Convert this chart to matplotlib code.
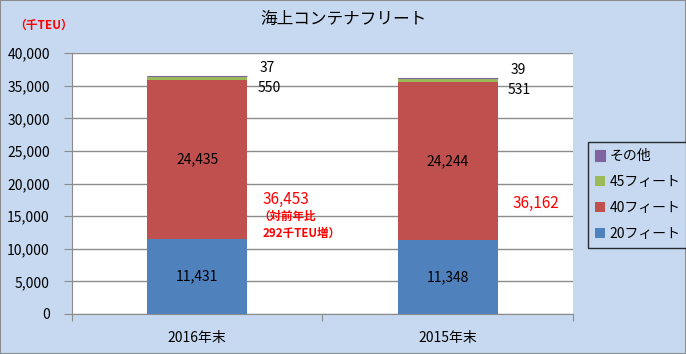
import matplotlib.pyplot as plt
from matplotlib.patches import Rectangle

plt.rcParams['font.family'] = ['Noto Sans CJK JP', 'DejaVu Sans']

categories = ['2016年末', '2015年末']
ft20 = [11431, 11348]
ft40 = [24435, 24244]
ft45 = [550, 531]
others = [37, 39]
totals = [36453, 36162]
series_names = ['20フィート', '40フィート', '45フィート', 'その他']
colors = ['#4F81BD', '#C0504D', '#9BBB59', '#8064A2']

bg = '#C6D9F0'
fig = plt.figure(figsize=(6.86, 3.54), dpi=100, facecolor=bg)
fig.patches.append(Rectangle((0, 0), 1, 1, transform=fig.transFigure,
                             fill=False, edgecolor='#8C8C8C', lw=1.5))
ax = fig.add_axes([0.105, 0.113, 0.730, 0.737])
ax.set_facecolor('white')

x = list(range(len(categories)))
bottom = [0, 0]
for vals, name, c in zip([ft20, ft40, ft45, others], series_names, colors):
    ax.bar(x, vals, 0.4, bottom=bottom, color=c, label=name, zorder=3,
           edgecolor=c if name == 'その他' else 'none', lw=0.8)
    bottom = [a + v for a, v in zip(bottom, vals)]

# labels inside bars
for i in x:
    ax.text(i, ft20[i] / 2, f'{ft20[i]:,}', ha='center', va='center', fontsize=10, zorder=4)
    ax.text(i, ft20[i] + ft40[i] / 2, f'{ft40[i]:,}', ha='center', va='center', fontsize=10, zorder=4)
    ax.text(i + 0.24, totals[i] - ft45[i] - 1300, f'{ft45[i]:,}', ha='left', va='center', fontsize=10)
    ax.text(i + 0.25, totals[i] + 1300, f'{others[i]:,}', ha='left', va='center', fontsize=10)

ax.text(0.26, 17600, f'{totals[0]:,}', color='red', fontsize=11, ha='left', va='center')
ax.text(0.245, 15000, '（対前年比', color='red', fontsize=8.3, ha='left', va='center', fontweight='bold')
ax.text(0.26, 12400, '292千TEU増）', color='red', fontsize=8.3, ha='left', va='center', fontweight='bold')
ax.text(1.26, 17000, f'{totals[1]:,}', color='red', fontsize=11, ha='left', va='center')

ax.set_xlim(-0.5, 1.5)
ax.set_ylim(0, 40000)
ax.set_yticks(range(0, 40001, 5000))
ax.set_yticklabels([f'{v:,}' for v in range(0, 40001, 5000)], fontsize=10)
ax.yaxis.grid(True, color='#8C8C8C', lw=1, zorder=0)
ax.set_xticks([-0.5, 0.5, 1.5])
ax.set_xticklabels([])
ax.set_xticks(x, minor=True)
ax.set_xticklabels(categories, minor=True, fontsize=10)
ax.tick_params(axis='x', which='minor', length=0, pad=12)
ax.tick_params(axis='x', which='major', length=5, color='#8C8C8C')
ax.tick_params(axis='y', length=6, color='#8C8C8C', pad=10)
for s in ['top', 'right']:
    ax.spines[s].set_visible(False)
for s in ['left', 'bottom']:
    ax.spines[s].set_color('#8C8C8C')

fig.text(0.5, 0.945, '海上コンテナフリート', ha='center', va='center', fontsize=12)
fig.text(0.02, 0.928, '（千TEU）', color='red', fontsize=8.5, ha='left', va='center', fontweight='bold')

h, l = ax.get_legend_handles_labels()
leg = fig.legend(h[::-1], l[::-1], loc='center left', bbox_to_anchor=(0.847, 0.449),
                 frameon=True, fancybox=False, edgecolor='black', facecolor=bg,
                 fontsize=10, handlelength=0.75, handleheight=0.75, handletextpad=0.3,
                 labelspacing=0.85, borderpad=0.5)
leg.get_frame().set_linewidth(1)

fig.savefig('out.png', dpi=100, facecolor=bg)
